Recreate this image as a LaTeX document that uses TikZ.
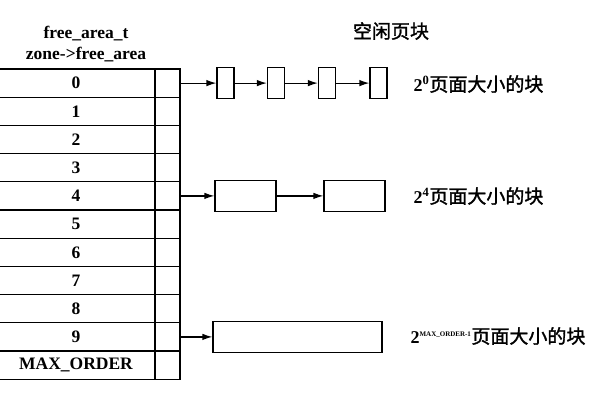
\documentclass[tikz,border=0pt]{standalone}
\usepackage{fontspec}
\setmainfont{Liberation Serif}
\newfontfamily\cjk[BoldFont={Noto Sans CJK SC},BoldFeatures={FakeBold=1.5}]{Noto Sans CJK SC}
\usetikzlibrary{positioning,arrows.meta}

\tikzset{
  cell/.style={draw,line width=1.2pt,minimum height=28.2pt,inner sep=0pt,
    font=\bfseries\fontsize{17.5}{20}\selectfont},
  ptr/.style={cell,minimum width=25pt},
  blk/.style={draw,line width=1.2pt,minimum height=31pt,inner sep=0pt},
  lbl/.style={anchor=west,inner sep=0pt,font=\bfseries\fontsize{18}{21}\selectfont},
}
\newcommand{\zh}[1]{{\cjk\bfseries\fontsize{19}{21}\selectfont #1}}

\begin{document}
\begin{tikzpicture}[x=1pt,y=-1pt,>={Latex[length=10pt,width=6.5pt]},line width=1.2pt]
    \useasboundingbox (0,0) rectangle (600,400);
    \clip (0,0) rectangle (600,400);
    % headings
    \path ( 86, 44) node [align=center,font=\bfseries\fontsize{17.5}{21}\selectfont] (head)
	{free\_area\_t\\zone->free\_area};
    \path (391, 31) node (title) {\zh{空闲页块}};
    % table of orders
    \path ( 76, 83.1) node [cell,minimum width=158pt] (row0) {0};
    \path ( 76,111.3) node [cell,minimum width=158pt] (row1) {1};
    \path ( 76,139.5) node [cell,minimum width=158pt] (row2) {2};
    \path ( 76,167.7) node [cell,minimum width=158pt] (row3) {3};
    \path ( 76,195.9) node [cell,minimum width=158pt] (row4) {4};
    \path ( 76,224.1) node [cell,minimum width=158pt] (row5) {5};
    \path ( 76,252.3) node [cell,minimum width=158pt] (row6) {6};
    \path ( 76,280.5) node [cell,minimum width=158pt] (row7) {7};
    \path ( 76,308.7) node [cell,minimum width=158pt] (row8) {8};
    \path ( 76,336.9) node [cell,minimum width=158pt] (row9) {9};
    \path ( 76,365.1) node [cell,minimum width=158pt] (rowmax) {MAX\_ORDER};
    \path (167.5, 83.1) node [ptr] (ptr0) {};
    \path (167.5,111.3) node [ptr] (ptr1) {};
    \path (167.5,139.5) node [ptr] (ptr2) {};
    \path (167.5,167.7) node [ptr] (ptr3) {};
    \path (167.5,195.9) node [ptr] (ptr4) {};
    \path (167.5,224.1) node [ptr] (ptr5) {};
    \path (167.5,252.3) node [ptr] (ptr6) {};
    \path (167.5,280.5) node [ptr] (ptr7) {};
    \path (167.5,308.7) node [ptr] (ptr8) {};
    \path (167.5,336.9) node [ptr] (ptr9) {};
    \path (167.5,365.1) node [ptr] (ptrmax) {};
    % free blocks of order 0
    \path (225.5, 83.1) node [blk,minimum width=17pt] (one0) {};
    \path (276  , 83.1) node [blk,minimum width=17pt] (one1) {};
    \path (327  , 83.1) node [blk,minimum width=17pt] (one2) {};
    \path (378.5, 83.1) node [blk,minimum width=17pt] (one3) {};
    \draw [->] (ptr0) -- (one0);
    \draw [->] (one0) -- (one1);
    \draw [->] (one1) -- (one2);
    \draw [->] (one2) -- (one3);
    % free blocks of order 4
    \path (245.5,195.9) node [blk,minimum width=61pt] (four0) {};
    \path (354.5,195.9) node [blk,minimum width=61pt] (four1) {};
    \draw [->] (ptr4) -- (four0);
    \draw [->] (four0) -- (four1);
    % free block of the last order
    \path (297.5,336.9) node [blk,minimum width=169pt] (last0) {};
    \draw [->] (ptr9) -- (last0);
    % sizes
    \path (413, 84) node [lbl] (size0) {2\textsuperscript{0}\zh{页面大小的块}};
    \path (413,196) node [lbl] (size4) {2\textsuperscript{4}\zh{页面大小的块}};
    \path (410,336) node [lbl] (sizemax)
	{2\textsuperscript{\fontsize{7}{8}\selectfont MAX\_ORDER-1}\zh{页面大小的块}};
\end{tikzpicture}
\end{document}
